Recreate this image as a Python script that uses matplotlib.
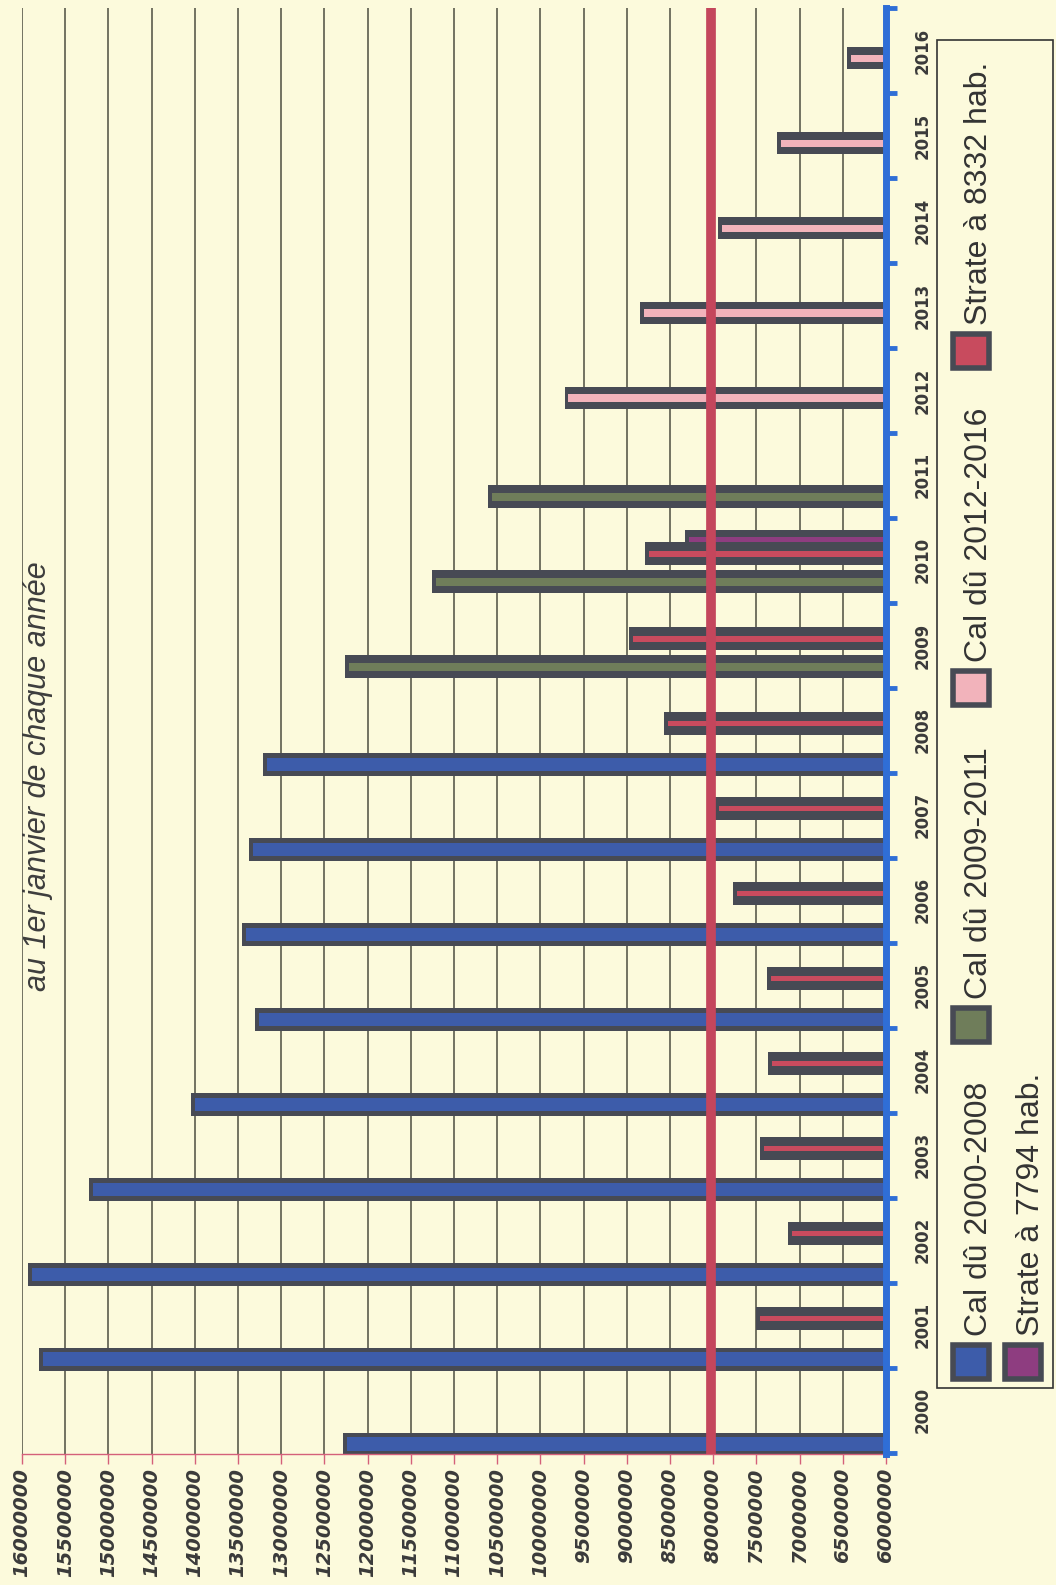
"""Cal dû par année, au 1er janvier - graphique pivoté (barres horizontales)."""

import matplotlib

matplotlib.use("Agg")
import matplotlib.pyplot as plt  # noqa: E402
import numpy as np  # noqa: E402
from matplotlib.patches import Rectangle  # noqa: E402

BG = "#fcfadc"
DARK = "#474a54"
BLUE = "#3d5caa"
AXBLUE = "#2f6ed6"
GREEN = "#6f7d5a"
PINK = "#f2b3bb"
RED = "#c84b5e"
PURPLE = "#8e3d80"
TXT = "#3a3a3a"

ANNEES = [str(a) for a in range(2000, 2017)]

# valeurs
CAL_2000_2008 = [12280000, 15800000, 15930000, 15220000, 14040000,
                 13300000, 13450000, 13370000, 13210000]
CAL_2009_2011 = [12260000, 11250000, 10610000]
CAL_2012_2016 = [9720000, 8850000, 7940000, 7260000, 6450000]
STRATE_8332 = [7500000, 7130000, 7460000, 7370000, 7380000,
               7770000, 7980000, 8570000, 8970000, 8790000]  # 2001-2010
STRATE_7794 = [8330000]  # 2010
LIGNE = 8030000

VAL_TICKS = list(range(6000000, 16500000, 500000))
VAL_LABELS = [str(v) for v in VAL_TICKS]

LEGENDE = ["Cal dû 2000-2008", "Cal dû 2009-2011", "Cal dû 2012-2016",
           "Strate à 8332 hab.", "Strate à 7794 hab."]

W, HPX = 1056, 1585
BASE = 6000000
H = 0.265


def fx(x):
    return x / W


def fy(y):
    return 1 - y / HPX


fig = plt.figure(figsize=(W / 100, HPX / 100), dpi=100)
fig.patch.set_facecolor(BG)
ax = fig.add_axes([fx(22), fy(1454), (886 - 22) / W, (1454 - 8) / HPX])
ax.set_facecolor(BG)


def barres(pos, vals, inner, frac, z=2):
    pos = np.asarray(pos, dtype=float)
    vals = np.asarray(vals, dtype=float)
    ax.barh(pos, vals - BASE, left=BASE, height=H, color=DARK, zorder=z)
    ax.barh(pos, vals - BASE - 45000, left=BASE, height=H * frac,
            color=inner, zorder=z + 0.1)


idx = np.arange(len(ANNEES))
barres(idx[0:9] - 0.40, CAL_2000_2008, BLUE, 0.6)
barres(idx[9:12] - 0.25, CAL_2009_2011, GREEN, 0.35)
barres(idx[12:17] - 0.09, CAL_2012_2016, PINK, 0.32)
barres(idx[10:11] + 0.23, STRATE_7794, PURPLE, 0.3, z=2)
barres(idx[1:11] + 0.08, STRATE_8332, RED, 0.26, z=3)

ax.axvline(LIGNE, color="#c4465c", lw=7, zorder=5)

ax.set_xlim(16000000, 6000000)
ax.set_ylim(-0.515, 16.40)

ax.set_xticks(VAL_TICKS)
ax.set_xticklabels(VAL_LABELS)
ax.grid(axis="x", color="#4d4d40", lw=1.1, zorder=0)
ax.set_axisbelow(True)
ax.tick_params(axis="x", direction="out", length=7, width=1, color="#d4607a",
               pad=3, labelrotation=90, labelsize=14, labelcolor=TXT)
for lb in ax.get_xticklabels():
    lb.set_fontweight("bold")
    lb.set_fontstyle("italic")

ax.yaxis.tick_right()
ax.set_yticks(idx)
ax.set_yticklabels(ANNEES)
ax.set_yticks(np.arange(-0.5, 16.6, 1), minor=True)
ax.tick_params(axis="y", which="major", length=0, pad=20, labelrotation=90,
               labelsize=12, labelcolor=TXT)
ax.tick_params(axis="y", which="minor", length=8, width=3.5, color=AXBLUE,
               direction="out")
for lb in ax.get_yticklabels():
    lb.set_fontweight("bold")
    lb.set_va("center")

for s in ("left", "top"):
    ax.spines[s].set_visible(False)
ax.spines["bottom"].set_color("#d4607a")
ax.spines["bottom"].set_linewidth(1)
ax.spines["right"].set_color(AXBLUE)
ax.spines["right"].set_linewidth(5)
ax.spines["right"].set_zorder(6)

fig.text(fx(46), fy(776), "au 1er janvier de chaque année", rotation=90,
         rotation_mode="anchor", ha="center", va="baseline",
         family="Liberation Sans", style="italic", size=22, color="#3d3d3d")

# légende dessinée à la main (texte pivoté)
fig.patches.append(Rectangle((fx(937), fy(1388)), (1053 - 937) / W,
                             (1388 - 40) / HPX, transform=fig.transFigure,
                             facecolor="none", edgecolor="#333333", lw=1.2))
couleurs = [BLUE, GREEN, PINK, RED, PURPLE]
places = [(950, 1382), (950, 1045), (950, 708), (950, 371), (1002, 1382)]
for lab, col, (x0, yb) in zip(LEGENDE, couleurs, places):
    fig.patches.append(Rectangle((fx(x0 + 3), fy(yb - 3)), 36 / W, 34 / HPX,
                                 transform=fig.transFigure, facecolor=col,
                                 edgecolor=DARK, lw=4))
    fig.text(fx(x0 + 37), fy(yb - 46), lab, rotation=90,
             rotation_mode="anchor", ha="left", va="baseline",
             family="Liberation Sans", size=23, color="#333333")

fig.savefig("out.png", dpi=100, facecolor=BG)
